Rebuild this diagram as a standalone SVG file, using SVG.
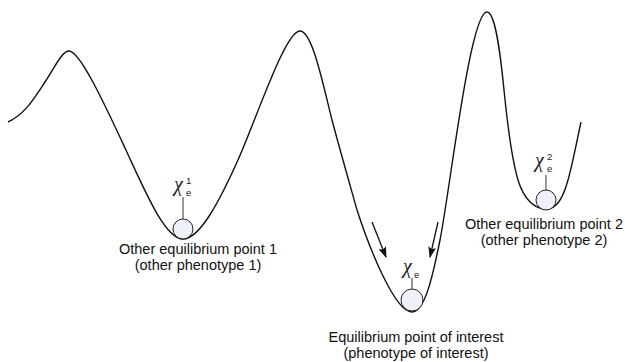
<svg xmlns="http://www.w3.org/2000/svg" width="625" height="362" viewBox="0 0 625 362">
<style>
.curve{fill:none;stroke:#111;stroke-width:1.4}
.ball{fill:#eef1f8;stroke:#222;stroke-width:1}
.stem{stroke:#333;stroke-width:1}
.chi{font-family:"Liberation Serif",serif;font-style:italic;font-size:20px;fill:#222}
.idx{font-family:"Liberation Sans",Arial,sans-serif;font-size:9.5px;fill:#222}
.lbl{font-family:"Liberation Sans",Arial,sans-serif;font-size:14.5px;fill:#111;text-anchor:middle}
.arr{stroke:#111;stroke-width:1.3}
</style>
<defs>
<marker id="ah" markerWidth="11" markerHeight="8" refX="10" refY="4" orient="auto" markerUnits="userSpaceOnUse">
<path d="M0,0 L11,4 L0,8 L2,4 Z" fill="#111"/>
</marker>
</defs>
<g id="landscape">
<path class="curve" d="M8,122 C25,114 33,100 45,82 C55,67 62,51 69,51 C80,51 105,105 125,148 C145,191 165,239 183,239 C200,239 220,200 238,160 C256,120 285,31 300,31 C312,31 322,80 332,120 C340,150 350,185 357,210 C370,250 395,312 412,312 C425,312 433,275 440,240 C450,190 470,12 487,12 C495,12 500,50 504,90 C508,130 512,160 518,180 C524,200 535,209 546,209 C557,209 563,198 568,180 C573,162 577,140 581,122"/>
</g>
<g id="connectors">
<line class="arr" x1="372" y1="222" x2="386" y2="257" marker-end="url(#ah)"/>
<line class="arr" x1="438" y1="222" x2="430" y2="257" marker-end="url(#ah)"/>
</g>
<g id="eq1">
<line class="stem" x1="183" y1="197" x2="183" y2="219"/>
<circle class="ball" cx="183" cy="229" r="10"/>
<text class="chi" x="174" y="191">χ</text>
<text class="idx" x="186" y="184">1</text>
<text class="idx" x="186" y="196">e</text>
<text class="lbl" x="198" y="254">Other equilibrium point 1</text>
<text class="lbl" x="198" y="270">(other phenotype 1)</text>
</g>
<g id="eq-interest">
<line class="stem" x1="412" y1="278" x2="412" y2="289"/>
<circle class="ball" cx="412" cy="300" r="11"/>
<text class="chi" x="403" y="273">χ</text>
<text class="idx" x="414" y="278">e</text>
<text class="lbl" x="416" y="342">Equilibrium point of interest</text>
<text class="lbl" x="416" y="358">(phenotype of interest)</text>
</g>
<g id="eq2">
<line class="stem" x1="546" y1="175" x2="546" y2="190"/>
<circle class="ball" cx="546" cy="200" r="10"/>
<text class="chi" x="535" y="167">χ</text>
<text class="idx" x="547" y="160">2</text>
<text class="idx" x="547" y="172">e</text>
<text class="lbl" x="544" y="229">Other equilibrium point 2</text>
<text class="lbl" x="544" y="245">(other phenotype 2)</text>
</g>
</svg>
